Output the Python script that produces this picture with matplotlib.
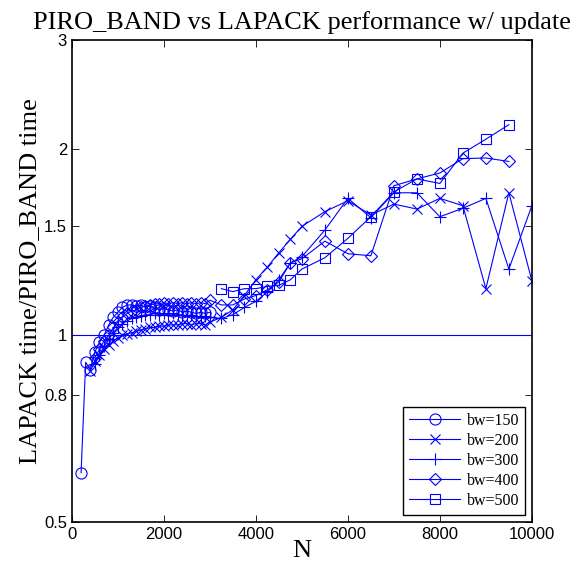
import matplotlib
matplotlib.use('Agg')
import matplotlib.pyplot as plt
from matplotlib.ticker import NullLocator

# problem sizes
n_small_150 = [200, 300, 400, 500, 600, 700, 800, 900, 1000, 1100, 1200, 1300, 1400, 1500,
               1600, 1700, 1800, 1900, 2000, 2100, 2200, 2300, 2400, 2500, 2600, 2700, 2800,
               2900, 3000]
n_small_200 = n_small_150[2:]
n_small_300 = n_small_150[3:]
n_large = [3250, 3500, 3750, 4000, 4250, 4500, 4750, 5000, 5500, 6000, 6500, 7000, 7500,
           8000, 8500, 9000, 9500, 10000]

# speedup (LAPACK time / PIRO_BAND time)
bw150 = [0.60, 0.905, 0.88, 0.94, 0.975, 1.00, 1.04, 1.07, 1.09, 1.11, 1.12, 1.12, 1.115,
         1.12, 1.11, 1.115, 1.11, 1.10, 1.105, 1.10, 1.095, 1.10, 1.09, 1.095, 1.09, 1.085,
         1.09, 1.085, 1.09]
bw200 = [0.875, 0.91, 0.93, 0.95, 0.965, 0.98, 0.99, 1.00, 1.005, 1.01, 1.015, 1.02, 1.025,
         1.03, 1.03, 1.035, 1.035, 1.04, 1.04, 1.04, 1.045, 1.045, 1.04, 1.045, 1.045, 1.04,
         1.05,
         1.07, 1.10, 1.16, 1.23, 1.29, 1.36, 1.43, 1.50, 1.585, 1.65, 1.565, 1.63, 1.60,
         1.665, 1.62, 1.19, 1.70, 1.225]
bw300 = [0.90, 0.93, 0.96, 0.985, 1.01, 1.03, 1.045, 1.055, 1.065, 1.07, 1.075, 1.08, 1.08,
         1.085, 1.08, 1.085, 1.08, 1.085, 1.08, 1.08, 1.075, 1.08, 1.075, 1.07, 1.075, 1.07,
         1.065, 1.08, 1.11, 1.135, 1.175, 1.23, 1.31, 1.34, 1.48, 1.665, 1.55, 1.70, 1.70,
         1.555, 1.605, 1.665, 1.28, 1.62]
bw400 = [0.92, 0.95, 0.98, 1.00, 1.03, 1.05, 1.07, 1.085, 1.095, 1.10, 1.11, 1.115, 1.12,
         1.125, 1.125, 1.13, 1.125, 1.13, 1.125, 1.13, 1.125, 1.13, 1.125, 1.13, 1.125, 1.14,
         1.12, 1.12, 1.145, 1.16, 1.185, 1.22, 1.31, 1.33, 1.42, 1.355, 1.345, 1.745, 1.79,
         1.83, 1.93, 1.935, 1.91]
bw500 = [1.19, 1.177, 1.19, 1.19, 1.20, 1.205, 1.23, 1.28, 1.335, 1.435, 1.555, 1.705, 1.79,
         1.76, 1.97, 2.075, 2.19]

series = [
    ('bw=150', n_small_150, bw150, 'o'),
    ('bw=200', n_small_200 + n_large, bw200, 'x'),
    ('bw=300', n_small_300 + n_large, bw300, '+'),
    ('bw=400', n_small_300 + n_large[:-1], bw400, 'D'),
    ('bw=500', n_large[:-1], bw500, 's'),
]

serif = 'Liberation Serif'
sans = 'Liberation Sans'

fig = plt.figure(figsize=(5.75, 5.73), dpi=100)
ax = fig.add_axes([0.125, 0.0895, 0.80, 0.8405])

msizes = {'o': 8, 'x': 6.5, '+': 9, 'D': 6, 's': 7}
for label, n, vals, mk in series:
    ax.plot(n, vals, color='blue', linewidth=0.8, marker=mk, markersize=msizes[mk],
            markerfacecolor='none', markeredgecolor='blue', markeredgewidth=0.8, label=label)

ax.plot([0, 10000], [1, 1], color='blue', linewidth=0.8)

ax.set_yscale('log')
ax.set_xlim(0, 10000)
ax.set_ylim(0.5, 3)
ax.set_xticks([0, 2000, 4000, 6000, 8000, 10000])
ax.set_yticks([0.5, 0.8, 1, 1.5, 2, 3])
ax.set_yticklabels(['0.5', '0.8', '1', '1.5', '2', '3'])
ax.yaxis.set_minor_locator(NullLocator())
ax.tick_params(direction='in', top=True, right=True, length=5, width=0.6, labelsize=12)
for lbl in ax.get_xticklabels() + ax.get_yticklabels():
    lbl.set_fontfamily(sans)
for sp in ax.spines.values():
    sp.set_linewidth(1.2)

ax.set_title('PIRO_BAND vs LAPACK performance w/ update', fontfamily=serif, fontsize=19, pad=8)
ax.set_xlabel('N', fontfamily=serif, fontsize=19, labelpad=-1)
ax.set_ylabel('LAPACK time/PIRO_BAND time', fontfamily=serif, fontsize=19, labelpad=2)

leg = ax.legend(loc='lower right', prop={'family': serif, 'size': 11.5}, fancybox=False,
                framealpha=1, edgecolor='black', handlelength=3.2, borderaxespad=0.4,
                labelspacing=0.25, handletextpad=0.4)
leg.get_frame().set_linewidth(1.0)

fig.savefig('out.png', dpi=100)
